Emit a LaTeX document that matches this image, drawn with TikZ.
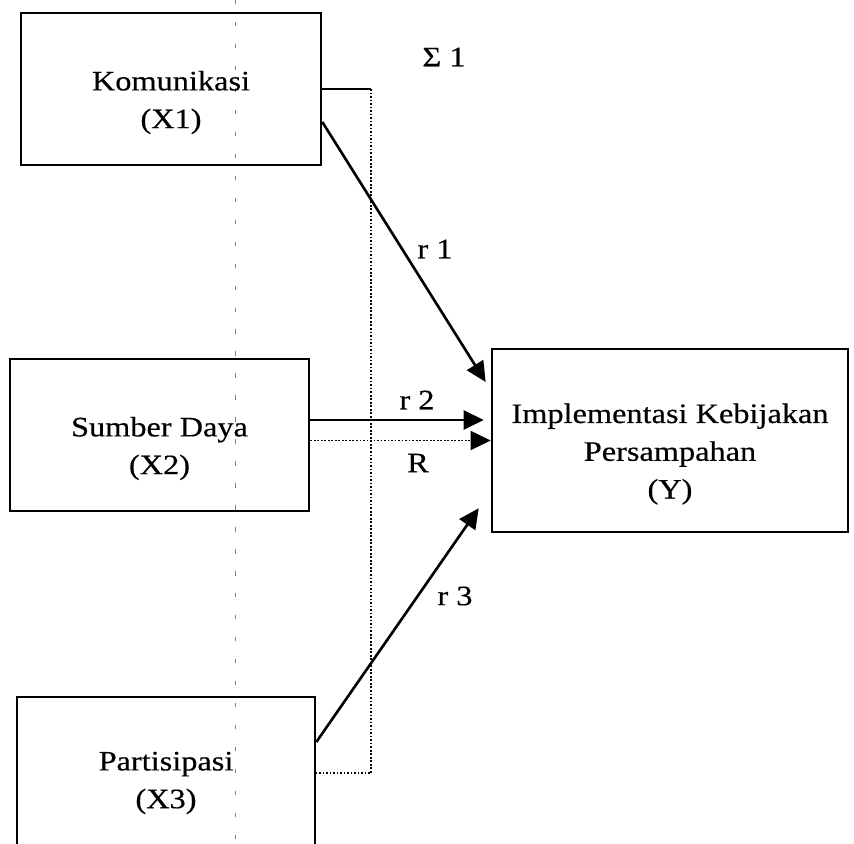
\documentclass[tikz,border=0pt]{standalone}
\usepackage{fontspec}
\setmainfont{Liberation Serif}[FakeStretch=1.15,FakeBold=0.4]
\usetikzlibrary{arrows.meta}

\begin{document}
\begin{tikzpicture}[font=\fontsize{16}{21.5}\selectfont,>={Triangle[length=4mm,width=3.8mm]},
    var/.style={draw,line width=1.5pt,minimum width=6cm,minimum height=3.04cm,inner sep=0pt},
    dep/.style={draw,line width=1.5pt,minimum width=7.12cm,minimum height=3.66cm,inner sep=0pt},
    txt/.style={align=center,inner sep=0pt,yshift=-0.27cm},
    coef/.style={->,line width=1.5pt},
    joint/.style={line width=1pt,dash pattern=on 1pt off 1pt},
    guide/.style={gray,line width=0.5pt,dash pattern=on 2.5pt off 10pt},
    lbl/.style={inner sep=1pt}]
  \useasboundingbox (0,0) rectangle (17.08,16.88);

  % faint guide line
  \draw[guide] (4.7,16.88) -- (4.7,0);

  % the three variables and the outcome
  \node[var,label={[txt]center:Komunikasi\\(X1)}] (X1) at (3.42,15.10) {};
  \node[var,minimum width=5.98cm,label={[txt]center:Sumber Daya\\(X2)}] (X2) at (3.19,8.18) {};
  \node[var,minimum width=5.96cm,label={[txt,yshift=0.07cm]center:Partisipasi\\(X3)}] (X3) at (3.32,1.42) {};
  \node[dep,label={[txt]center:Implementasi Kebijakan\\Persampahan\\(Y)}] (Y) at (13.4,8.07) {};

  % --- partial effects ---
  \draw[coef,shorten >=0.19cm] ([yshift=-0.66cm]X1.east) -- ([yshift=1.01cm]Y.west);
  \coordinate (r2s) at ([yshift=0.3cm]X2.east);
  \draw[coef,shorten >=0.14cm] (r2s) -- (r2s -| Y.west);
  \draw[coef,shorten >=0.42cm] ([yshift=0.62cm]X3.east) -- ([yshift=-1.01cm]Y.west);

  % --- joint effect ---
  \draw[line width=1.5pt] (X1.east) -- ++(0.98,0) coordinate (brk);
  \draw[joint] (brk) |- (X3.east);
  \draw[joint,->] (X2.east |- Y.west) -- (Y.west);

  \node[lbl] (s1) at (8.88,15.74) {Σ 1};
  \node[lbl] (r1) at (8.70,11.90) {r 1};
  \node[lbl] (r2) at (8.34,8.88)  {r 2};
  \node[lbl] (R)  at (8.36,7.62)  {R};
  \node[lbl] (r3) at (9.10,4.96)  {r 3};
\end{tikzpicture}
\end{document}
